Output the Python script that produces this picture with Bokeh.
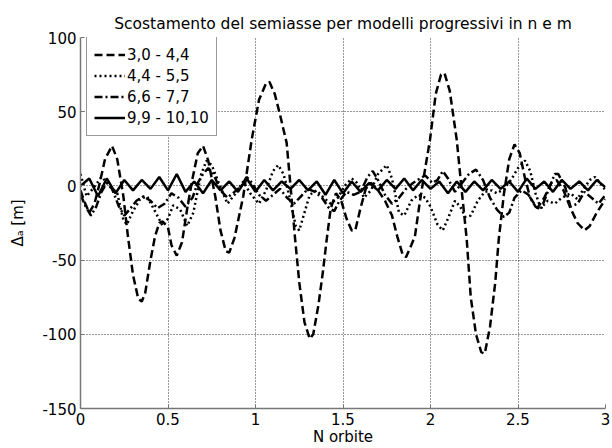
from bokeh.plotting import figure
from bokeh.models import Range1d, FixedTicker, CustomJSTickFormatter
from bokeh.embed import file_html
from bokeh.resources import INLINE

# ---- data ----
x_ticks = [0, 0.5, 1, 1.5, 2, 2.5, 3]
y_ticks = [-150, -100, -50, 0, 50, 100]

labels = ["3,0 - 4,4", "4,4 - 5,5", "6,6 - 7,7", "9,9 - 10,10"]

x_a = [0.00, 0.02, 0.05, 0.08, 0.11, 0.14, 0.18, 0.21, 0.245, 0.27, 0.30, 0.33, 0.35, 0.37, 0.40,
       0.426, 0.45, 0.47, 0.50, 0.52, 0.55, 0.58, 0.61, 0.64, 0.67, 0.70, 0.73, 0.77, 0.80, 0.83,
       0.85, 0.88, 0.93, 0.978, 1.02, 1.06, 1.08, 1.11, 1.14, 1.178, 1.20, 1.225, 1.25, 1.28, 1.31,
       1.33, 1.36, 1.385, 1.407, 1.43, 1.46, 1.49, 1.52, 1.55, 1.57, 1.60, 1.63, 1.66, 1.70, 1.74,
       1.78, 1.81, 1.84, 1.86, 1.89, 1.911, 1.94, 1.97, 1.997, 2.03, 2.06, 2.08, 2.11, 2.15, 2.18,
       2.207, 2.23, 2.26, 2.29, 2.31, 2.34, 2.37, 2.39, 2.42, 2.45, 2.48, 2.51, 2.54, 2.57, 2.61,
       2.65, 2.69, 2.72, 2.76, 2.80, 2.84, 2.88, 2.91, 2.95, 3.00]
y_a = [-3, -10, -18, -12, 2, 18, 27, 18, -7, -33, -60, -76, -78, -72, -50,
       -34, -25, -24, -28, -40, -47, -38, -15, 5, 22, 27, 17, -7, -30, -44,
       -45, -35, -7, 31, 58, 69, 70, 62, 48, 29, 0, -34, -65, -92, -103,
       -100, -80, -58, -36, -15, -5, -10, -22, -30, -30, -15, -2, 2, -3, -10,
       -20, -34, -46, -48, -40, -34, -10, 12, 31, 62, 75, 76, 64, 31, -5,
       -36, -75, -100, -112, -113, -95, -65, -36, -5, 18, 28, 22, 5, -8, -15,
       -8, 2, 4, -3, -15, -25, -30, -27, -18, -9]

x_b = [0.00, 0.035, 0.07, 0.12, 0.17, 0.21, 0.245, 0.265, 0.30, 0.34, 0.38, 0.43, 0.47, 0.50, 0.53,
       0.57, 0.61, 0.645, 0.67, 0.69, 0.72, 0.75, 0.79, 0.84, 0.88, 0.93, 0.97, 1.02, 1.06, 1.10,
       1.13, 1.16, 1.19, 1.23, 1.25, 1.28, 1.31, 1.35, 1.39, 1.43, 1.47, 1.51, 1.55, 1.58, 1.62,
       1.66, 1.70, 1.75, 1.78, 1.82, 1.85, 1.89, 1.93, 1.97, 2.00, 2.04, 2.07, 2.10, 2.14, 2.17,
       2.20, 2.23, 2.27, 2.31, 2.35, 2.38, 2.42, 2.46, 2.50, 2.54, 2.57, 2.60, 2.63, 2.67, 2.71,
       2.75, 2.80, 2.84, 2.87, 2.91, 2.94, 2.97, 3.00]
y_b = [8, -7, -2, 6, 0, -5, -23, -26, -17, -9, -7, -18, -27, -22, -13,
       -16, -27, -18, -3, 8, 17, 14, 2, -12, -6, 3, -5, -12, -3, 10,
       14, 8, -5, -27, -30, -18, -6, -3, -8, -12, -8, 0, 5, 2, -8,
       -3, 8, 14, 5, -18, -20, -10, -6, -8, -14, -26, -30, -22, -10, -14,
       -21, -20, -10, -4, -3, -5, -2, 4, 12, 17, 10, -5, -15, -10, -12,
       -8, -5, -9, -3, 4, 6, 2, -3]

x_c = [0.00, 0.03, 0.06, 0.09, 0.12, 0.15, 0.18, 0.22, 0.25, 0.28, 0.32, 0.36, 0.40, 0.44, 0.48,
       0.52, 0.56, 0.60, 0.64, 0.67, 0.70, 0.73, 0.76, 0.80, 0.84, 0.88, 0.92, 0.95, 0.98, 1.02,
       1.06, 1.10, 1.14, 1.18, 1.22, 1.26, 1.30, 1.34, 1.38, 1.42, 1.45, 1.48, 1.52, 1.56, 1.60,
       1.64, 1.67, 1.70, 1.74, 1.78, 1.82, 1.86, 1.90, 1.94, 1.97, 2.01, 2.04, 2.07, 2.10, 2.14,
       2.18, 2.22, 2.26, 2.30, 2.34, 2.38, 2.42, 2.45, 2.48, 2.52, 2.56, 2.60, 2.63, 2.67, 2.71,
       2.73, 2.77, 2.80, 2.84, 2.88, 2.92, 2.96, 3.00]
y_c = [-6, -14, -20, -14, -4, 2, -2, -14, -20, -16, -10, -7, -10, -15, -12,
       -5, -8, -14, -8, 2, 8, 12, 8, -3, -8, -4, 0, 6, 2, -6,
       -10, -6, -2, -8, -12, -7, -2, -4, -8, -15, -17, -10, -4, -6, -4,
       6, 10, 4, -6, -12, -8, -2, 2, 5, 7, 2, 4, 10, 5, -4,
       2, 8, 11, 4, -8, -16, -21, -18, -8, -3, -6, -14, -16, -4, 8,
       8, -1, -14, -12, -4, -8, -12, -6]

x_d = [0.00, 0.05, 0.10, 0.15, 0.20, 0.25, 0.30, 0.35, 0.40, 0.45, 0.50, 0.55, 0.60, 0.65, 0.70,
       0.75, 0.80, 0.85, 0.90, 0.95, 1.00, 1.05, 1.10, 1.15, 1.20, 1.25, 1.30, 1.35, 1.40, 1.45,
       1.50, 1.55, 1.60, 1.65, 1.70, 1.75, 1.80, 1.85, 1.90, 1.95, 2.00, 2.05, 2.10, 2.15, 2.20,
       2.25, 2.30, 2.35, 2.40, 2.45, 2.50, 2.55, 2.60, 2.65, 2.70, 2.75, 2.80, 2.85, 2.90, 2.95,
       3.00]
y_d = [0, 5, -7, 5, -5, 4, -3, 4, -2, 6, -3, 8, -4, 3, -5,
       4, -3, 3, -4, 5, -4, 4, -3, 3, -2, 4, -3, 3, -6, 4,
       -5, 3, -4, 2, -3, 4, -2, 5, -3, 4, -2, 3, -5, 3, -4,
       3, -3, 4, -2, 3, -4, 5, -2, 3, -4, 4, -2, 3, -3, 4,
       -1]

series = [(x_a, y_a, "8 4"), (x_b, y_b, "2 3"), (x_c, y_c, "8 3 2 3"), (x_d, y_d, "solid")]

FONT = "DejaVu Sans"

p = figure(width=612, height=448, output_backend="svg", toolbar_location=None,
           x_range=Range1d(0, 3), y_range=Range1d(-150, 100),
           min_border_left=80, min_border_right=7, min_border_top=37, min_border_bottom=40,
           title="Scostamento del semiasse per modelli progressivi in n e m")

p.background_fill_color = "white"
p.border_fill_color = "white"
p.outline_line_color = None

p.title.align = "center"
p.title.text_font = FONT
p.title.text_font_size = "15.5px"
p.title.text_font_style = "normal"
p.title.text_color = "black"

fmt = CustomJSTickFormatter(code="return tick.toString();")

p.xaxis.ticker = FixedTicker(ticks=x_ticks)
p.yaxis.ticker = FixedTicker(ticks=y_ticks)

for ax in (p.xaxis[0], p.yaxis[0]):
    ax.formatter = fmt
    ax.minor_tick_line_color = None
    ax.major_tick_in = 4
    ax.major_tick_out = 0
    ax.major_tick_line_color = "#777777"
    ax.axis_line_color = "#777777"
    ax.axis_line_width = 1.5
    ax.major_label_text_font = FONT
    ax.major_label_text_font_size = "15px"
    ax.major_label_text_color = "black"
    ax.axis_label_text_font = FONT
    ax.axis_label_text_font_size = "15px"
    ax.axis_label_text_font_style = "normal"
    ax.axis_label_text_color = "black"
    ax.major_label_standoff = 4

p.xaxis.axis_label = "N orbite"
p.xaxis.axis_label_standoff = 0
p.yaxis.axis_label = "\u0394\u2090 [m]"
p.yaxis.axis_label_standoff = 12

p.grid.grid_line_color = "black"
p.grid.grid_line_alpha = 0.8
p.grid.grid_line_dash = "1 2"
p.grid.grid_line_width = 1

for (xs, ys, dash), lab in zip(series, labels):
    p.line(xs, ys, line_color="black", line_width=2.5, line_dash=dash, legend_label=lab)

lg = p.legend[0]
lg.location = (6, 272)
lg.padding = 7
lg.spacing = 0
lg.margin = 0
lg.glyph_width = 31
lg.glyph_height = 21
lg.label_height = 21
lg.label_standoff = 2
lg.label_text_font = FONT
lg.label_text_font_size = "15px"
lg.label_text_color = "black"
lg.border_line_color = "#333333"
lg.border_line_width = 1
lg.background_fill_color = "white"
lg.background_fill_alpha = 1

open("out.html", "w").write(file_html(p, INLINE))
